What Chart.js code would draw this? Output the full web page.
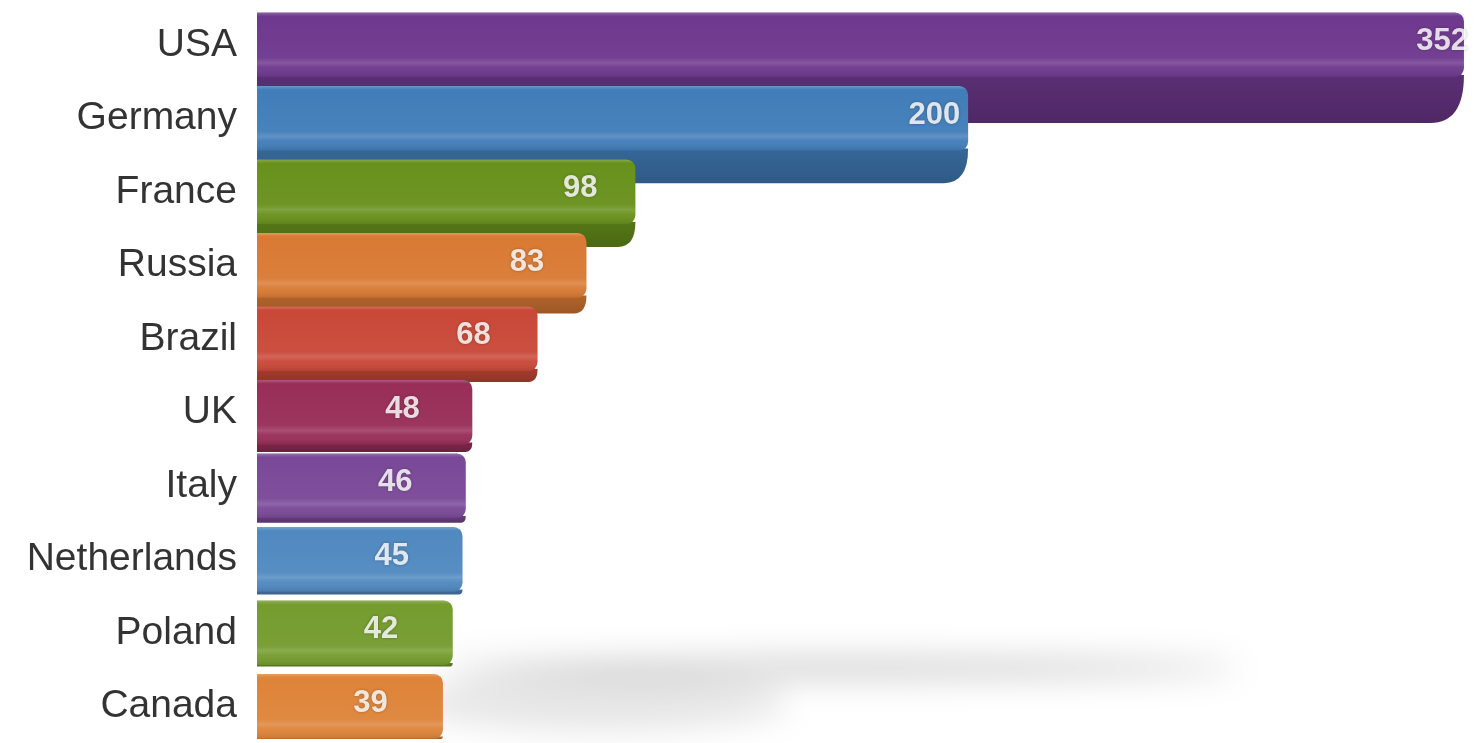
<!DOCTYPE html>
<html>
<head>
<meta charset="utf-8">
<script src="https://cdn.jsdelivr.net/npm/chart.js@4.4.1/dist/chart.umd.min.js"></script>
<style>
  html,body{margin:0;padding:0;background:#fff;}
  #wrap{width:1477px;height:743px;position:relative;}
</style>
</head>
<body>
<div id="wrap"><canvas id="bars"></canvas></div>
<script>
const countries = ['USA','Germany','France','Russia','Brazil','UK','Italy','Netherlands','Poland','Canada'];
const values = [352,200,98,83,68,48,46,45,42,39];
const barColors = ['#6e388e','#417db9','#68911c','#d97a34','#c94838','#982e58','#7a4898','#5089c0','#749c2e','#de8439'];
const axisStart = -18, axisEnd = 356;

function shade(hex, amt){
  const n = parseInt(hex.slice(1),16);
  let r=n>>16, g=(n>>8)&255, b=n&255;
  const f = c => amt>=0 ? Math.round(c+(255-c)*amt) : Math.round(c*(1+amt));
  return `rgb(${f(r)},${f(g)},${f(b)})`;
}

// floor shadow + dark underside of each bar, painted before the faces
const underside = {
  id:'underside',
  beforeDatasetsDraw(chart){
    const c = chart.ctx;
    c.save();
    c.filter = 'blur(16px)';
    c.fillStyle = 'rgba(0,0,0,0.22)';
    c.beginPath(); c.ellipse(840, 668, 400, 9, 0, 0, Math.PI*2); c.fill();
    c.fillStyle = 'rgba(0,0,0,0.10)';
    c.beginPath(); c.ellipse(600, 702, 190, 28, 0, 0, Math.PI*2); c.fill();
    c.restore();

    chart.getDatasetMeta(0).data.forEach((el,i)=>{
      const depth = 48*Math.pow(0.72,i);
      const fb = el.y + el.height/2 - 2, left = el.base, right = el.x;
      const g = c.createLinearGradient(0, fb, 0, fb+depth);
      g.addColorStop(0, shade(barColors[i], -0.18));
      g.addColorStop(1, shade(barColors[i], -0.28));
      c.save();
      c.fillStyle = g;
      c.beginPath();
      c.moveTo(left, fb); c.lineTo(right, fb);
      c.quadraticCurveTo(right, fb+depth, right-depth*0.7, fb+depth);
      c.lineTo(left, fb+depth); c.closePath(); c.fill();
      c.restore();
    });
  }
};

// glossy stripes on the faces and the value labels
const faceGloss = {
  id:'faceGloss',
  afterDatasetsDraw(chart){
    const c = chart.ctx;
    chart.getDatasetMeta(0).data.forEach((el,i)=>{
      const top = el.y - el.height/2, h = el.height, left = el.base, right = el.x;
      c.save();
      c.beginPath(); c.roundRect(left, top, right-left, h, [0,9,9,0]); c.clip();
      const g = c.createLinearGradient(0, top, 0, top+h);
      g.addColorStop(0, 'rgba(255,255,255,0.22)');
      g.addColorStop(0.06, 'rgba(255,255,255,0.0)');
      g.addColorStop(0.70, 'rgba(255,255,255,0.04)');
      g.addColorStop(0.78, 'rgba(255,255,255,0.16)');
      g.addColorStop(0.85, 'rgba(255,255,255,0.04)');
      g.addColorStop(1, 'rgba(0,0,0,0.10)');
      c.fillStyle = g;
      c.fillRect(left, top, right-left, h);
      c.restore();

      const w = right-left;
      const gap = Math.max(-4, 72 - 0.09*w);
      c.save();
      c.font = '600 31px "Liberation Sans", Arial, sans-serif';
      c.textAlign = 'right'; c.textBaseline = 'middle';
      c.shadowColor = 'rgba(0,0,0,0.35)'; c.shadowBlur = 3;
      c.fillStyle = 'rgba(255,255,255,0.84)';
      c.fillText(String(values[i]), right - gap, el.y - 3);
      c.restore();
    });
  }
};

new Chart(document.getElementById('bars').getContext('2d'), {
  type:'bar',
  data:{ labels:countries, datasets:[{
    data:values, base:axisStart, backgroundColor:barColors,
    borderRadius:{topLeft:0,bottomLeft:0,topRight:9,bottomRight:9}, borderSkipped:false,
    barPercentage:0.88, categoryPercentage:1
  }]},
  options:{
    indexAxis:'y', responsive:true, maintainAspectRatio:false, animation:false,
    layout:{padding:{top:8,left:0,right:0,bottom:0}},
    plugins:{legend:{display:false}, tooltip:{enabled:false}},
    scales:{
      x:{display:false, min:axisStart, max:axisEnd},
      y:{
        grid:{display:false}, border:{display:false},
        afterFit:s=>{ s.width = 257; s.paddingTop = 0; s.paddingBottom = 0; },
        ticks:{padding:12, color:'#333', font:{family:'"Liberation Sans", Arial, sans-serif', size:39}}
      }
    }
  },
  plugins:[underside, faceGloss]
});
</script>
</body>
</html>
